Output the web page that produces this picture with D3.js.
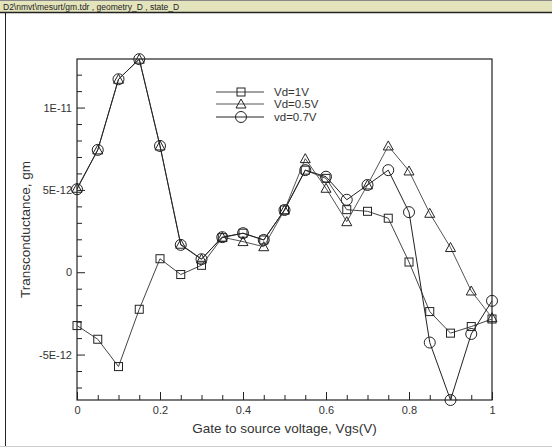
<!DOCTYPE html>
<html>
<head>
<meta charset="utf-8">
<script src="https://cdn.jsdelivr.net/npm/d3@7"></script>
<style>
    html, body { margin: 0; padding: 0; background: #fff; }
    svg { display: block; font-family: "Liberation Sans", Arial, sans-serif; }
</style>
</head>
<body>
<div id="chart"></div>
<script>
    // 数据 (单位 1E-12)
    const vgs = [0, 0.05, 0.1, 0.15, 0.2, 0.25, 0.3, 0.35, 0.4, 0.45, 0.5,
        0.55, 0.6, 0.65, 0.7, 0.75, 0.8, 0.85, 0.9, 0.95, 1];
    const vd1 = [-3.24, -4.07, -5.73, -2.25, 0.82, -0.14, 0.42, 2.1, 2.37, 1.96, 3.78,
        6.2, 5.7, 3.8, 3.7, 3.28, 0.62, -2.39, -3.7, -3.3, -2.84];
    const vd05 = [5.1, 7.43, 11.72, 12.94, 7.67, 1.7, 0.8, 2.13, 1.86, 1.55, 3.78,
        6.9, 5.1, 3.07, 5.3, 7.67, 6.15, 3.58, 1.5, -1.14, -2.76];
    const vd07 = [5.04, 7.43, 11.72, 12.94, 7.67, 1.66, 0.79, 2.13, 2.37, 1.96, 3.78,
        6.2, 5.8, 4.4, 5.3, 6.2, 3.65, -4.27, -7.76, -3.75, -1.74];

    const seriesNames = ['Vd=1V', 'Vd=0.5V', 'vd=0.7V'];
    const seriesMarks = ['square', 'triangle', 'circle'];
    const seriesValues = [vd1, vd05, vd07];

    const xTicks = [0, 0.2, 0.4, 0.6, 0.8, 1];
    const yTicks = [-5, 0, 5, 10];
    const yTickLabels = ['-5E-12', '0', '5E-12', '1E-11'];

    const W = 552, H = 448;
    const plot = { left: 77, right: 492, top: 59, bottom: 400 };

    const svg = d3.select('#chart').append('svg')
        .attr('width', W)
        .attr('height', H);

    // 窗口外框
    svg.append('rect').attr('x', 0).attr('y', 0).attr('width', W).attr('height', 12)
        .attr('fill', '#e4e4bc');
    svg.append('line').attr('x1', 0).attr('x2', W).attr('y1', 12.5).attr('y2', 12.5)
        .attr('stroke', '#222').attr('stroke-width', 1.5);
    svg.append('line').attr('x1', 0).attr('x2', W).attr('y1', 0.5).attr('y2', 0.5)
        .attr('stroke', '#888');
    svg.append('text').attr('x', 3).attr('y', 9.5)
        .attr('font-size', 8.5).attr('fill', '#222')
        .text('D2\\nmvt\\mesurt/gm.tdr , geometry_D , state_D');
    svg.append('line').attr('x1', 5.5).attr('x2', 5.5).attr('y1', 13).attr('y2', 446)
        .attr('stroke', '#222');
    svg.append('line').attr('x1', 0).attr('x2', W).attr('y1', 446.5).attr('y2', 446.5)
        .attr('stroke', '#ccc');

    const x = d3.scaleLinear().domain([0, 1]).range([plot.left, plot.right]);
    const y = d3.scaleLinear().domain([-7.76, 12.95]).range([plot.bottom, plot.top]);

    // 边框
    svg.append('rect')
        .attr('x', plot.left).attr('y', plot.top)
        .attr('width', plot.right - plot.left).attr('height', plot.bottom - plot.top)
        .attr('fill', 'none').attr('stroke', '#222').attr('stroke-width', 1.2);

    // 坐标轴 (刻度朝内)
    const xMinor = d3.range(0, 1.0001, 0.05).filter(v => !xTicks.some(t => Math.abs(t - v) < 1e-6));
    const yMinor = d3.range(-7, 13, 1).filter(v => !yTicks.includes(v));

    const xAxis = svg.append('g').attr('transform', `translate(0,${plot.bottom})`);
    xAxis.call(d3.axisBottom(x).tickValues(xTicks).tickSize(-8).tickPadding(6)
        .tickFormat(d3.format('~g')));
    xAxis.append('g').call(d3.axisBottom(x).tickValues(xMinor).tickSize(-5).tickFormat(''));

    const yAxis = svg.append('g').attr('transform', `translate(${plot.left},0)`);
    yAxis.call(d3.axisLeft(y).tickValues(yTicks).tickSize(-8).tickPadding(5)
        .tickFormat((d, i) => yTickLabels[i]));
    yAxis.append('g').call(d3.axisLeft(y).tickValues(yMinor).tickSize(-5).tickFormat(''));

    svg.selectAll('.domain').remove();
    svg.selectAll('.tick line').attr('stroke', '#222');
    svg.selectAll('.tick text').attr('font-size', 11).attr('fill', '#333')
        .attr('font-family', '"Liberation Sans", Arial, sans-serif');

    // 轴标题
    svg.append('text')
        .attr('x', (plot.left + plot.right) / 2).attr('y', 433)
        .attr('text-anchor', 'middle').attr('font-size', 13.5).attr('fill', '#333')
        .text('Gate to source voltage, Vgs(V)');
    svg.append('text')
        .attr('transform', `translate(30,${(plot.top + plot.bottom) / 2}) rotate(-90)`)
        .attr('text-anchor', 'middle').attr('font-size', 13.5).attr('fill', '#333')
        .text('Transconductance, gm');

    // 标记
    function drawMark(g, type, cx, cy) {
        if (type === 'square') {
            g.append('rect').attr('x', cx - 4).attr('y', cy - 4).attr('width', 8).attr('height', 8)
                .attr('fill', 'none').attr('stroke', '#222');
        } else if (type === 'triangle') {
            g.append('path')
                .attr('d', `M${cx},${cy - 5}L${cx + 5},${cy + 4}L${cx - 5},${cy + 4}Z`)
                .attr('fill', 'none').attr('stroke', '#222');
        } else {
            g.append('circle').attr('cx', cx).attr('cy', cy).attr('r', 5.5)
                .attr('fill', 'none').attr('stroke', '#222');
        }
    }

    const line = d3.line().x(d => x(d[0])).y(d => y(d[1]));
    const lineColors = ['#444', '#555', '#222'];

    seriesValues.forEach((vals, i) => {
        const pts = vgs.map((v, j) => [v, vals[j]]);
        const g = svg.append('g');
        g.append('path').datum(pts).attr('d', line)
            .attr('fill', 'none').attr('stroke', lineColors[i]).attr('stroke-width', 1);
        pts.forEach(p => drawMark(g, seriesMarks[i], x(p[0]), y(p[1])));
    });

    // 图例
    const legendY = [92, 104, 117];
    seriesNames.forEach((name, i) => {
        const g = svg.append('g');
        g.append('line').attr('x1', 216).attr('x2', 264)
            .attr('y1', legendY[i]).attr('y2', legendY[i])
            .attr('stroke', lineColors[i]);
        drawMark(g, seriesMarks[i], 241, legendY[i]);
        g.append('text').attr('x', 274).attr('y', legendY[i] + 4)
            .attr('font-size', 11.5).attr('fill', '#333').text(name);
    });
</script>
</body>
</html>
